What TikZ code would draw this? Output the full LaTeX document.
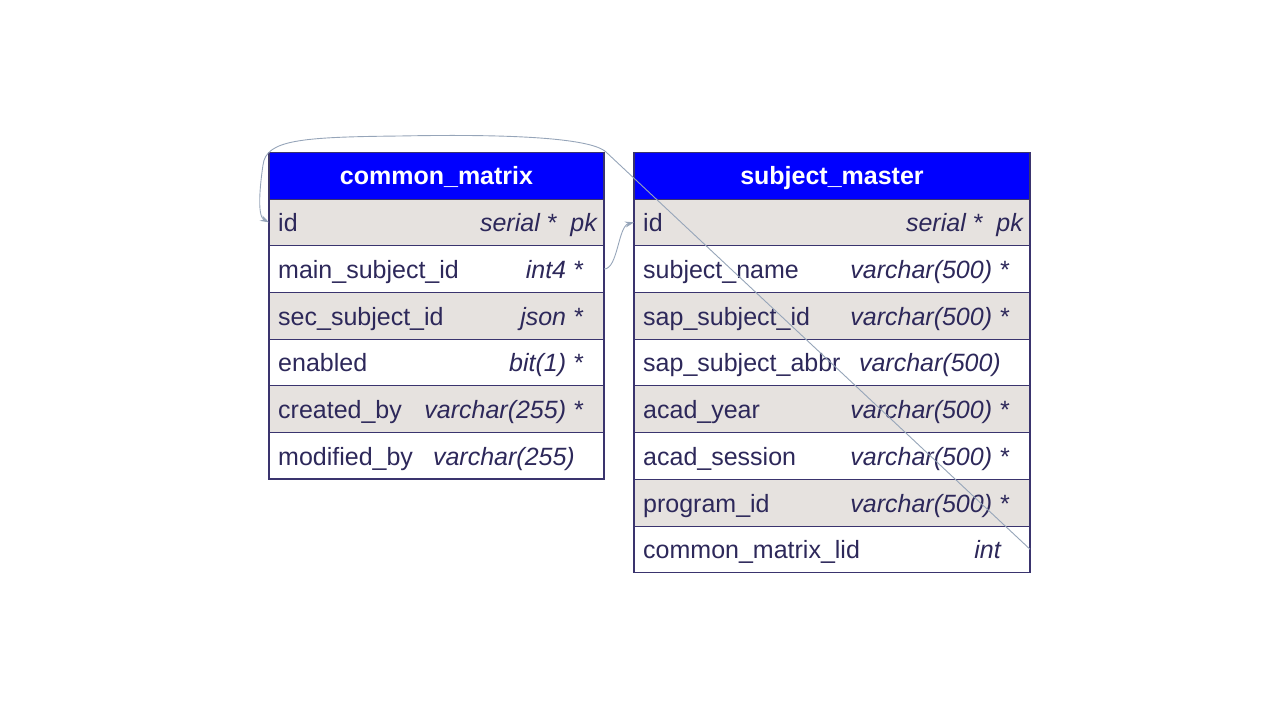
\documentclass[tikz,border=0pt]{standalone}
\usepackage{fontspec}
\setmainfont{Liberation Sans}
\usetikzlibrary{arrows.meta}
\definecolor{hdr}{RGB}{0,0,255}
\definecolor{alt}{RGB}{230,226,223}
\definecolor{bord}{RGB}{58,52,110}
\definecolor{txt}{RGB}{45,40,90}
\definecolor{conn}{RGB}{150,165,185}
\newcommand\bigf{\fontsize{25}{30}\selectfont}
\tikzset{
 cell/.style={draw=bord, line width=0.8pt, minimum height=46.7pt, anchor=north west, inner sep=0pt, outer sep=0pt},
 cmcell/.style={cell, minimum width=335pt},
 smcell/.style={cell, minimum width=396pt},
 hdrcell/.style={fill=hdr, text=white, font=\bigf\bfseries, text height=18pt, text depth=0pt},
 altcell/.style={fill=alt},
 plaincell/.style={fill=white},
 fname/.style={anchor=west, text=txt, inner sep=0pt, font=\bigf, text height=19pt, text depth=0pt},
 ftype/.style={anchor=east, text=txt, inner sep=0pt, font=\bigf\itshape, text height=19pt, text depth=0pt},
 frame/.style={draw=bord, line width=1.6pt},
 link/.style={draw=conn, line width=0.9pt, -{Stealth[length=9pt,width=6pt]}}
}
\begin{document}
\begin{tikzpicture}[x=1pt,y=-1pt]
\useasboundingbox (0,0) rectangle (1264,728);
% common_matrix
\node[cmcell,hdrcell] (cmh) at (269,152.3) {common\_matrix};
\node[cmcell,altcell] (cm1) at (269,199) {};
\node[cmcell,plaincell] (cm2) at (269,245.7) {};
\node[cmcell,altcell] (cm3) at (269,292.4) {};
\node[cmcell,plaincell] (cm4) at (269,339.1) {};
\node[cmcell,altcell] (cm5) at (269,385.8) {};
\node[cmcell,plaincell] (cm6) at (269,432.5) {};
\draw[frame] (cmh.north west) rectangle (cm6.south east);
\node[fname] (cmn1) at (278,0 |- cm1) {id};
\node[fname] (cmn2) at (278,0 |- cm2) {main\_subject\_id};
\node[fname] (cmn3) at (278,0 |- cm3) {sec\_subject\_id};
\node[fname] (cmn4) at (278,0 |- cm4) {enabled};
\node[fname] (cmn5) at (278,0 |- cm5) {created\_by};
\node[fname] (cmn6) at (278,0 |- cm6) {modified\_by};
\node[ftype] (cmt1) at (597,0 |- cm1) {serial *~~pk};
\node[ftype] (cmt2) at (583,0 |- cm2) {int4 *};
\node[ftype] (cmt3) at (583,0 |- cm3) {json *};
\node[ftype] (cmt4) at (583,0 |- cm4) {bit(1) *};
\node[ftype] (cmt5) at (583,0 |- cm5) {varchar(255) *};
\node[ftype] (cmt6) at (575,0 |- cm6) {varchar(255)};
% subject_master
\node[smcell,hdrcell] (smh) at (634,152.3) {subject\_master};
\node[smcell,altcell] (sm1) at (634,199) {};
\node[smcell,plaincell] (sm2) at (634,245.7) {};
\node[smcell,altcell] (sm3) at (634,292.4) {};
\node[smcell,plaincell] (sm4) at (634,339.1) {};
\node[smcell,altcell] (sm5) at (634,385.8) {};
\node[smcell,plaincell] (sm6) at (634,432.5) {};
\node[smcell,altcell] (sm7) at (634,479.2) {};
\node[smcell,plaincell] (sm8) at (634,525.9) {};
\draw[frame] (smh.north west) rectangle (sm8.south east);
\node[fname] (smn1) at (643,0 |- sm1) {id};
\node[fname] (smn2) at (643,0 |- sm2) {subject\_name};
\node[fname] (smn3) at (643,0 |- sm3) {sap\_subject\_id};
\node[fname] (smn4) at (643,0 |- sm4) {sap\_subject\_abbr};
\node[fname] (smn5) at (643,0 |- sm5) {acad\_year};
\node[fname] (smn6) at (643,0 |- sm6) {acad\_session};
\node[fname] (smn7) at (643,0 |- sm7) {program\_id};
\node[fname] (smn8) at (643,0 |- sm8) {common\_matrix\_lid};
\node[ftype] (smt1) at (1023,0 |- sm1) {serial *~~pk};
\node[ftype] (smt2) at (1009,0 |- sm2) {varchar(500) *};
\node[ftype] (smt3) at (1009,0 |- sm3) {varchar(500) *};
\node[ftype] (smt4) at (1001,0 |- sm4) {varchar(500)};
\node[ftype] (smt5) at (1009,0 |- sm5) {varchar(500) *};
\node[ftype] (smt6) at (1009,0 |- sm6) {varchar(500) *};
\node[ftype] (smt7) at (1009,0 |- sm7) {varchar(500) *};
\node[ftype] (smt8) at (1001,0 |- sm8) {int};
% connectors
\draw[link] (cm2.east) .. controls +(14,0) and +(-16,4) .. (sm1.west);
\coordinate (w1) at (606,152);
\coordinate (w2) at (400,136);
\coordinate (w3) at (263,165);
\draw[link] (sm8.east) -- (w1) .. controls (590,137) and (500,134) .. (w2)
  .. controls (300,137) and (266,140) .. (w3)
  .. controls (260,185) and (257,216) .. (cm1.west);
\end{tikzpicture}
\end{document}
